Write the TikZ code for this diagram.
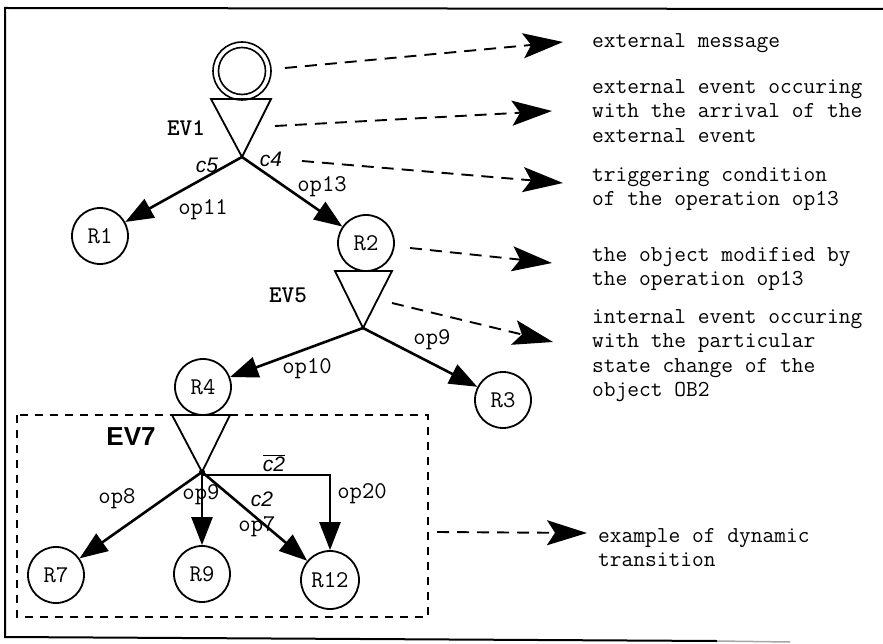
\documentclass[tikz,border=0pt]{standalone}
\usepackage{fontspec}
\setmainfont{Liberation Serif}
\newfontfamily\sansfont{Liberation Sans}
\usetikzlibrary{arrows.meta}

\begin{document}
\begin{tikzpicture}[x=1pt,y=-1pt,
  state/.style={circle,draw,line width=1.8pt,minimum size=56pt,inner sep=0pt,
    font=\ttfamily\fontsize{24}{24}\selectfont},
  evtri/.style={draw,line width=1.8pt,line join=miter},
  trans/.style={line width=2.6pt,-{Triangle[length=28pt,width=21pt]}},
  oplabel/.style={font=\ttfamily\fontsize{24}{24}\selectfont,inner sep=0pt},
  condlabel/.style={font=\sansfont\itshape\fontsize{21}{21}\selectfont,inner sep=0pt},
  evlabel/.style={font=\ttfamily\bfseries\fontsize{24}{24}\selectfont,inner sep=0pt},
  pointer/.style={line width=1.9pt,dash pattern=on 12pt off 8pt,
    -{Stealth[length=40pt,width=25pt,inset=8pt]}},
  legend/.style={font=\ttfamily\fontsize{22.8}{24.5}\selectfont,align=left,inner sep=0pt,anchor=north west},
]
\useasboundingbox (0,0) rectangle (883,644);

% outer frame (open on the right)
\draw[line width=2pt] (883,9) -- (5,8) -- (5,637) -- (717,641);
\draw[line width=1.5pt,black!35] (717,641) -- (790,642);

% ---------- external message and event EV1 ----------
\node[circle,draw,line width=1.6pt,minimum size=58pt,inner sep=0pt] (msg) at (242,71) {};
\node[circle,draw,line width=1.6pt,minimum size=47pt,inner sep=0pt] (msgin) at (242,71) {};
\draw[evtri] (211,99) -- (271,99) -- (242,157) -- cycle;
\coordinate (ev1) at (242,157);
\node[evlabel] (lev1) at (186,128) {EV1};

\node[state] (R1) at (100,236) {R1};
\node[state] (R2) at (366,243) {R2};

\draw[trans] (ev1) -- (R1);
\draw[trans] (ev1) -- (R2);
\node[condlabel] (lc5) at (207,165) {c5};
\node[condlabel] (lc4) at (271,159) {c4};
\node[oplabel] (lop11) at (203,210) {op11};
\node[oplabel] (lop13) at (322,187) {op13};

% ---------- internal event EV5 ----------
\draw[evtri] (335,271) -- (392,271) -- (363,328) -- cycle;
\coordinate (ev5) at (363,328);
\node[evlabel] (lev5) at (288,295) {EV5};

\node[state] (R4) at (203,387) {R4};
\node[state] (R3) at (503,400) {R3};
\draw[trans] (ev5) -- (R4);
\draw[trans] (ev5) -- (R3);
\node[oplabel] (lop10) at (307,369) {op10};
\node[oplabel] (lop9a) at (432,340) {op9};

% ---------- dynamic transition EV7 ----------
\draw[line width=1.4pt,dash pattern=on 8pt off 7pt] (17,415) rectangle (428,617);
\draw[evtri] (172,415) -- (230,415) -- (202,472) -- cycle;
\coordinate (ev7) at (202,472);
\node[font=\sansfont\bfseries\fontsize{26}{26}\selectfont,inner sep=0pt] (lev7) at (131,437) {EV7};

\node[state] (R7) at (56,575) {R7};
\node[state] (R9) at (202,574) {R9};
\node[state,minimum size=58pt] (R12) at (330,580) {R12};

\draw[trans] (ev7) -- (R7);
\draw[trans] (ev7) -- (R9);
\draw[trans] (ev7) -- (R12);
\coordinate (ev7r) at (202,475);
\draw[trans] (ev7r) -| (R12);
\fill (ev7) circle (3pt);

\node[oplabel] (lop8) at (117,499) {op8};
\node[oplabel] (lop9b) at (201,495) {op9};
\node[condlabel] (lc2) at (262,499) {c2};
\node[oplabel] (lop7) at (257,527) {op7};
\node[condlabel] (lc2bar) at (274,463) {$\overline{\hbox{\sansfont\itshape c2}}$};
\node[oplabel] (lop20) at (362,494) {op20};

% ---------- explanatory pointers ----------
\coordinate (p1) at (285,68);  \coordinate (t1) at (563,42);
\coordinate (p2) at (275,126); \coordinate (t2) at (552,111);
\coordinate (p3) at (302,161); \coordinate (t3) at (563,183);
\coordinate (p4) at (410,248); \coordinate (t4) at (552,263);
\coordinate (p5) at (392,303); \coordinate (t5) at (553,342);
\coordinate (p6) at (437,532); \coordinate (t6) at (587,533);

\draw[pointer] (p1) -- (t1);
\draw[pointer] (p2) -- (t2);
\draw[pointer] (p3) -- (t3);
\draw[pointer] (p4) -- (t4);
\draw[pointer] (p5) -- (t5);
\draw[pointer] (p6) -- (t6);

\node[legend] (n1) at (592,33) {external message};
\node[legend] (n2) at (592,79) {external event occuring\\with the arrival of the\\external event};
\node[legend] (n3) at (592,167) {triggering condition\\of the operation op13};
\node[legend] (n4) at (592,247) {the object modified by\\the operation op13};
\node[legend] (n5) at (592,309) {internal event occuring\\with the particular\\state change of the\\object OB2};
\node[legend] (n6) at (598,528) {example of dynamic\\transition};
\end{tikzpicture}
\end{document}
